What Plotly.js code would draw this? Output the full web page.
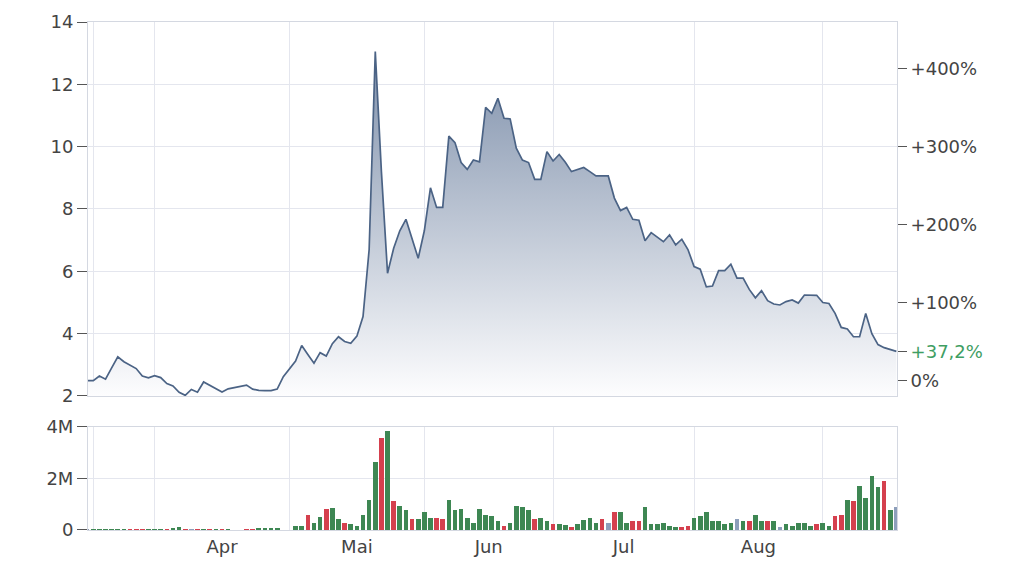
<!DOCTYPE html>
<html><head><meta charset="utf-8">
<script src="https://cdn.plot.ly/plotly-3.0.1.min.js"></script>
<style>html,body{margin:0;padding:0;background:#fff}#chart{width:1024px;height:570px}</style>
</head><body><div id="chart"></div>
<script>
// trading-day index 0 = 17 Mar, weekends removed; null = exchange holiday
const price = [
 2.49,2.49,2.64,2.54,2.90,3.26,3.10,3.00,2.88,2.64,
 2.58,2.65,2.59,2.40,2.32,2.12,2.02,2.21,2.12,2.45,
 2.34,2.23,2.13,2.23,null,null,2.35,2.22,2.18,2.17,
 2.17,2.22,2.62,null,3.12,3.62,3.33,3.05,3.39,3.28,
 3.68,3.90,3.75,3.69,3.92,4.55,6.70,13.05,9.20,5.94,
 6.74,7.30,7.67,7.05,6.42,7.30,8.68,8.05,8.05,10.34,
 10.13,9.49,9.27,9.57,9.51,11.26,11.07,11.55,10.91,10.89,
 9.95,9.57,9.49,8.95,8.95,9.84,9.54,9.75,9.50,9.20,
 9.27,9.33,9.20,9.06,9.06,9.06,8.35,7.95,8.05,7.67,
 7.64,6.98,7.24,7.10,6.95,7.17,6.85,7.03,6.70,6.15,
 6.07,5.50,5.53,6.02,6.02,6.23,5.78,5.78,5.42,5.15,
 5.38,5.06,4.95,4.92,5.03,5.08,4.98,5.24,5.24,5.23,
 5.00,4.97,4.65,4.20,4.15,3.90,3.90,4.65,4.00,3.65,
 3.55,3.50,3.43
];
// volume in millions of shares
const volumeM = [
 0.05,0.05,0.05,0.05,0.05,0.05,0.05,0.05,0.05,0.05,
 0.05,0.05,0.05,0.05,0.06,0.13,0.05,0.05,0.05,0.05,
 0.05,0.05,0.05,0.05,null,null,0.05,0.05,0.06,0.06,
 0.06,0.06,null,null,0.15,0.17,0.58,0.28,0.51,0.81,
 0.87,0.41,0.28,0.22,0.15,0.59,1.18,2.63,3.58,3.84,
 1.12,0.95,0.79,0.42,0.42,0.71,0.46,0.46,0.42,1.18,
 0.79,0.83,0.46,0.29,0.83,0.59,0.53,0.36,0.16,0.29,
 0.95,0.89,0.79,0.42,0.47,0.36,0.22,0.22,0.18,0.13,
 0.22,0.39,0.46,0.29,0.42,0.29,0.71,0.71,0.29,0.34,
 0.34,0.89,0.22,0.22,0.29,0.16,0.10,0.10,0.16,0.46,
 0.53,0.71,0.36,0.36,0.22,0.29,0.42,0.36,0.36,0.59,
 0.36,0.36,0.36,0.10,0.22,0.16,0.29,0.29,0.16,0.22,
 0.29,0.16,0.53,0.59,1.18,1.12,1.71,1.25,2.08,1.67,
 1.91,0.79,0.89
];
// u = up day, d = down day, n = unchanged
const direction = [
 'n','u','u','u','u','u','u','d','d','d',
 'u','u','u','d','u','u','d','n','d','u',
 'd','u','d','u','n','n','d','d','u','u',
 'u','u','u','n','u','u','d','u','u','d',
 'u','u','d','u','u','u','u','u','d','u',
 'd','u','u','d','u','u','u','d','d','u',
 'u','u','u','u','u','u','u','u','d','u',
 'u','u','u','d','u','u','d','u','u','d',
 'u','u','u','u','d','n','d','u','u','d',
 'd','u','u','u','u','u','u','d','d','u',
 'u','u','u','u','u','u','n','u','d','u',
 'u','d','u','n','u','u','u','u','u','d',
 'u','u','d','d','u','d','u','u','u','u',
 'd','u','n'
];
const basePrice = 2.5;
const monthGridIdx = [1, 11, 33, 55, 76, 99, 120];
const monthLabelIdx = [22, 44, 65.5, 87.5, 109.5];
const monthLabels = ['Apr', 'Mai', 'Jun', 'Jul', 'Aug'];
const priceTicks = [2, 4, 6, 8, 10, 12, 14];
const priceRange = [2, 14];
const pctTicks = [0, 37.2, 100, 200, 300, 400];
const pctLabels = ['0%', '+37,2%', '+100%', '+200%', '+300%', '+400%'];
const volTicks = [0, 2, 4];
const volLabels = ['0', '2M', '4M'];

const idx = price.map((_, i) => i);
const dirColor = {u: '#3e8753', d: '#d5404e', n: '#8d9fbb'};
const gridC = '#e4e6ee', lineC = '#d4d8e1', txtC = '#444';
const font = {family: 'DejaVu Sans, Verdana, sans-serif', size: 18, color: txtC};
const xr = [0.14, 132.1];

const traces = [
  {type: 'scatter', mode: 'lines', x: idx, y: price, xaxis: 'x', yaxis: 'y',
   connectgaps: true, line: {color: '#4b6385', width: 1.7},
   fill: 'tozeroy',
   fillgradient: {type: 'vertical', start: 2, stop: 14,
     colorscale: [[0, 'rgb(253,253,254)'], [1, 'rgb(116,135,164)']]},
   hoverinfo: 'skip', showlegend: false},
  {type: 'scatter', mode: 'markers', x: [idx[0]], y: [0], xaxis: 'x', yaxis: 'y3',
   marker: {opacity: 0, size: 1}, hoverinfo: 'skip', showlegend: false},
  {type: 'bar', x: idx, y: volumeM.map(v => v === null ? null : v * 1e6),
   xaxis: 'x2', yaxis: 'y2', width: 0.76,
   marker: {color: direction.map(d => dirColor[d]), line: {width: 0}},
   hoverinfo: 'skip', showlegend: false}
];

const minorGrid = {tickvals: monthGridIdx, showgrid: true, gridcolor: gridC, gridwidth: 1, ticks: ''};
const pctTickText = pctLabels.map((t, i) => pctTicks[i] === 37.2 ? '<span style="color:#3f9e63">' + t + '</span>' : t);

const layout = {
  width: 1024, height: 570,
  margin: {l: 88, r: 127, t: 22, b: 40},
  paper_bgcolor: '#fff', plot_bgcolor: '#fff',
  font: font, showlegend: false,
  xaxis: {domain: [0, 1], anchor: 'y', range: xr, tickmode: 'array', tickvals: monthLabelIdx,
    showticklabels: false, showgrid: false, zeroline: false, ticks: '',
    minor: minorGrid, showline: true, mirror: true, linecolor: lineC, linewidth: 1},
  xaxis2: {domain: [0, 1], anchor: 'y2', matches: 'x', range: xr, tickmode: 'array',
    tickvals: monthLabelIdx, ticktext: monthLabels, showgrid: false, zeroline: false, ticks: '',
    minor: minorGrid, showline: true, mirror: true, linecolor: lineC, linewidth: 1,
    tickfont: font},
  yaxis: {domain: [0.2638, 1], range: priceRange, tickmode: 'array', tickvals: priceTicks,
    showgrid: true, gridcolor: gridC, zeroline: false, ticks: 'outside', ticklen: 10,
    tickcolor: '#555', tickwidth: 1, showline: true, mirror: true, linecolor: lineC, tickfont: font},
  yaxis3: {overlaying: 'y', side: 'right', anchor: 'x',
    range: priceRange.map(p => (p / basePrice - 1) * 100),
    tickmode: 'array', tickvals: pctTicks, ticktext: pctTickText,
    showgrid: false, zeroline: false, ticks: 'outside', ticklen: 9, tickcolor: '#555',
    tickwidth: 1, showline: false, tickfont: font},
  yaxis2: {domain: [0, 0.2028], range: [0, 4e6], tickmode: 'array',
    tickvals: volTicks.map(v => v * 1e6), ticktext: volLabels,
    showgrid: true, gridcolor: gridC, zeroline: false, ticks: 'outside', ticklen: 10,
    tickcolor: '#555', tickwidth: 1, showline: true, mirror: true, linecolor: lineC, tickfont: font},
  bargap: 0
};

Plotly.newPlot('chart', traces, layout, {staticPlot: true, displayModeBar: false});
</script>
</body></html>
